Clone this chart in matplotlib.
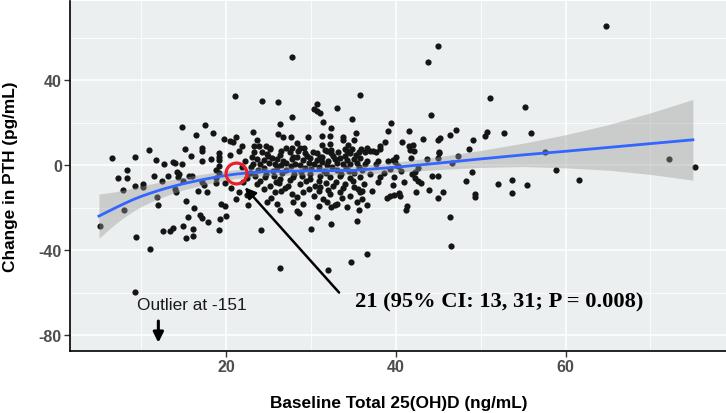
import numpy as np
import matplotlib
matplotlib.use('Agg')
import matplotlib.pyplot as plt
from matplotlib.ticker import MultipleLocator

plt.rcParams['axes.unicode_minus'] = False

# scatter points (baseline 25(OH)D, change in PTH)
pts_x = [5.1, 6.5, 7.2, 7.8, 8.0, 8.3, 8.3, 9.2, 9.2, 9.4, 9.3, 10.2, 10.2, 10.9, 11.0, 11.5, 11.7, 11.8, 11.9, 12.4,
         12.6, 12.7, 13.1, 13.4, 13.7, 13.7, 14.0, 14.0, 14.1, 14.2, 14.4, 14.3, 14.8, 14.8, 14.9, 14.9, 15.1, 15.3, 15.3, 15.5,
         15.6, 15.8, 16.0, 16.1, 16.1, 16.2, 16.4, 16.7, 16.9, 17.1, 17.1, 17.1, 17.2, 17.2, 17.4, 17.5, 17.7, 17.8, 18.2, 18.4,
         18.8, 18.8, 18.8, 19.2, 19.2, 19.2, 19.2, 19.2, 19.3, 19.4, 19.7, 19.8, 19.9, 20.0, 20.4, 20.8, 20.4, 21.0, 21.1, 20.6,
         21.2, 21.8, 19.2,
         23.2, 24.2, 26.1, 27.8, 27.7, 26.3, 26.1, 26.7, 23.6, 23.3, 23.9, 24.7, 25.2, 25.2, 27.6, 28.3, 29.6, 30.3, 30.7, 30.7,
         31.1, 31.4, 33.1, 35.8, 32.4, 31.3, 32.2, 33.8, 33.8, 34.8, 35.3, 35.1, 31.3, 32.2, 34.3, 27.1, 27.8, 28.7, 29.2, 31.6,
         32.4, 34.0, 34.8, 35.9, 36.6,
         37.3, 38.1, 38.1, 38.7, 39.1, 39.4, 40.7, 41.5, 41.5, 41.7, 42.0, 42.1, 43.2, 43.8, 44.1, 44.9, 44.9, 45.2, 45.1, 46.4,
         47.1, 47.3, 48.6, 49.1, 50.5, 50.7, 51.1, 52.7, 55.2, 55.9, 57.6, 58.9, 61.6, 64.7, 72.2, 75.2, 45.1, 45.0, 43.7, 41.8,
         40.0, 39.7, 39.9, 39.1, 37.9, 37.7, 46.6, 40.6, 42.2, 41.9, 39.3, 42.2, 42.6, 42.9, 44.3, 45.0, 39.8, 39.6, 40.9, 38.1,
         37.9, 37.2, 42.4, 43.9, 45.5, 39.3, 39.0, 39.8, 40.4, 40.5, 44.9, 41.3, 49.3, 49.3, 48.2, 49.0, 52.0, 53.7, 55.4, 53.7,
         36.0, 41.2, 46.4, 46.5, 36.6, 34.7, 37.0, 37.7,
         24.1, 26.3, 26.3, 28.3, 28.6, 30.7, 30.0, 32.4, 32.4, 32.0, 35.4, 35.7, 36.6, 32.8,
         23.3, 24.2, 24.8, 26.5, 27.5, 28.5, 29.3, 30.2, 30.7, 31.9, 32.4, 33.2, 34.2, 34.6, 35.6, 36.4,
         23.6, 24.4, 25.4, 26.0, 26.7, 27.7, 28.3, 29.1, 29.9, 30.7, 31.3, 32.0, 32.8, 33.4, 34.2, 35.0, 35.8, 36.6,
         23.2, 24.0, 25.0, 25.8, 26.5, 27.1, 28.1, 28.7, 29.7, 30.3, 31.3, 31.9, 33.0, 33.8, 34.6, 35.4, 36.4,
         23.8, 25.5, 27.0, 28.8, 30.0, 31.5, 33.0, 34.5, 36.0,
         23.4, 24.6, 25.6, 26.3, 27.9, 28.9, 29.9, 31.1, 32.2, 33.4, 34.6, 35.8,
         23.6, 25.2, 26.2, 27.3, 28.7, 30.5, 31.1, 31.7, 32.6, 34.0, 35.0, 36.2,
         25.8, 26.5, 27.7, 29.1, 30.3, 30.9, 32.2, 33.4, 34.6, 35.8,
         24.8, 26.0, 27.9, 29.1, 30.9, 31.9, 33.0, 34.2, 35.4,
         23.0, 24.9, 26.3, 27.9, 29.5, 31.0, 32.6, 34.0, 35.3,
         22.9, 24.5, 26.0, 27.6, 29.3, 30.9, 32.5, 34.1, 35.7,
         24.0, 25.9, 27.5, 29.4, 30.9, 32.9, 34.9,
         24.4, 26.9, 29.7, 32.0, 33.8, 35.5,
         25.3, 28.3, 31.4, 33.6, 36.0,
         21.5, 22.2, 21.8, 22.5, 22.0, 21.5, 22.5, 22.6,
         22.8, 24.7, 26.6, 28.0, 29.9, 31.7, 33.5, 35.1, 36.9, 38.6, 40.2, 42.6]
pts_y = [-28.7, 3.3, -6.1, -11.9, -21.2, -2.2, -6.1, 3.6, -9.7, -33.8, -59.6, -8.9, -10.5, 6.9, -39.7, -5.0, 2.4, -15.2, -18.8, -7.4,
         -31.2, 0.3, -5.2, -31.2, -29.8, 1.4, 1.0, -11.3, -12.9, -3.3, -4.2, -5.8, 18.0, 0.5, -7.4, -28.6, 7.7, -34.5, -16.8, -24.6,
         -5.2, 4.4, -5.2, -33.6, -30.0, -20.0, 14.0, -12.0, -23.6, -24.8, 2.0, -7.8, 8.0, 6.7, -9.5, 19.0, -12.9, -27.0, 2.8, 14.9,
         -2.2, -6.1, -8.5, 5.8, 3.9, 2.4, -0.3, -30.6, -25.3, -18.4, 12.5, -19.1, -8.5, -23.8, 11.4, 11.0, 4.6, 32.4, -16.0, -11.0,
         13.0, 8.9, -3.8,
         15.8, 30.3, 29.6, 51.1, 22.8, 19.2, 14.6, 13.0, 11.8, 8.8, 9.1, 9.1, 8.2, 7.5, 13.3, 10.5, 13.0, 26.5, 28.9, 25.6,
         24.6, 20.3, 27.1, 32.8, 17.3, 13.8, 13.8, 13.3, 11.8, 21.8, 15.2, 11.8, 9.3, 9.8, 9.4, 7.9, 7.9, 7.9, 7.9, 7.0,
         7.2, 7.4, 7.5, 7.5, 8.0,
         6.7, 9.1, 7.8, 11.1, 16.1, 19.7, 11.0, 16.1, 8.9, 7.0, 9.5, 6.8, 12.5, 48.6, 23.5, 55.9, 11.9, 12.8, 6.0, 14.3,
         16.6, 4.4, 7.5, 11.6, 13.8, 15.8, 31.7, 15.0, 27.3, 15.0, 6.0, -2.2, -6.9, 65.7, 3.0, -0.8, 5.6, 3.4, 3.0, 3.3,
         3.6, 2.5, 1.6, 1.7, 1.9, 0.5, 1.1, -2.8, -3.4, -4.4, -1.8, -6.1, -7.4, -8.2, -5.3, -5.3, -5.8, -9.3, -8.1, -5.5,
         -7.8, -12.1, -12.9, -11.9, -12.9, -14.4, -15.7, -14.0, -13.3, -14.4, -15.4, -19.2, -13.6, -15.2, -7.4, -3.4, -8.8, -7.0, -9.5, -13.3,
         -12.0, -21.2, -24.3, -38.1, -41.7, -45.5, 6.7, 6.3,
         -30.6, -21.2, -48.3, -21.8, -22.6, -24.3, -30.3, -27.6, -19.7, -49.6, -26.5, -21.0, -19.0, -18.8,
         6.0, 6.3, 5.2, 6.7, 6.0, 6.7, 5.6, 6.2, 5.6, 6.7, 5.6, 6.0, 6.7, 5.6, 6.2, 6.0,
         2.8, 2.5, 3.3, 2.8, 2.0, 2.8, 3.6, 2.4, 3.1, 2.5, 3.6, 2.0, 2.8, 3.1, 2.4, 2.8, 3.1, 2.0,
         0.5, 0.5, 1.0, 0.5, 0.2, 1.0, 0.5, 0.2, 1.0, 0.5, 1.3, 0.2, 1.0, 0.5, 0.5, 1.0, 0.5,
         -2.2, -3.0, -2.4, -3.2, -2.0, -2.8, -2.2, -3.0, -2.5,
         -5.0, -5.8, -5.0, -6.6, -5.8, -5.0, -6.6, -5.3, -5.8, -5.0, -6.3, -5.8,
         -9.0, -9.8, -8.2, -9.8, -9.0, -9.8, -10.5, -8.2, -9.8, -9.0, -10.5, -9.0,
         -12.9, -12.1, -13.7, -12.9, -14.4, -12.1, -13.7, -12.9, -14.4, -12.9,
         -17.6, -18.4, -17.6, -18.4, -19.2, -17.6, -18.4, -19.9, -17.6,
         4.0, 4.4, 4.6, 4.0, 4.4, 4.0, 4.5, 4.2, 4.6,
         -0.8, -1.2, -1.0, -0.6, -1.3, -0.9, -0.7, -1.2, -0.8,
         -7.4, -7.8, -7.2, -7.6, -7.4, -7.8, -7.6,
         -11.2, -10.8, -11.3, -11.6, -10.9, -11.1,
         -15.6, -15.2, -15.8, -15.4, -16.0,
         6.5, 2.0, -1.0, -6.0, -8.0, -12.5, -14.0, -19.0,
         -3.9, -4.1, -3.7, -4.0, -4.2, -3.8, -4.1, -3.9, -4.4, -3.6, -0.4, -1.6]

# smoother (loess)
fit_x = [5, 6, 7, 8, 9, 10, 11, 12, 13, 15, 17, 19, 21, 23, 25, 30, 35, 40, 45, 50, 55, 60, 65, 70, 75]
fit_y = [-24.0, -22.0, -20.0, -18.1, -16.3, -14.7, -13.3, -12.0, -10.8, -8.7, -7.0, -5.5, -4.3, -3.5, -3.0, -2.7, -2.5,
         -1.0, 0.9, 2.9, 4.8, 6.5, 8.3, 10.1, 11.9]
fit_se = [10.4, 8.9, 7.5, 6.4, 5.5, 4.8, 4.3, 3.9, 3.5, 2.9, 2.6, 2.3, 2.1, 2.0, 1.9, 1.9, 2.0, 2.4, 3.0, 4.0, 5.5,
          7.8, 10.7, 14.5, 19.0]

optimum = (21.2, -3.8)
note = '21 (95% CI: 13, 31; P = 0.008)'

fig = plt.figure(figsize=(7.26, 4.14), dpi=100)
ax = fig.add_axes([0.0968, 0.1498, 0.9032, 0.8452])
ax.set_facecolor('#ECEFEF')

fx = np.array(fit_x)
fy = np.array(fit_y)
fs = np.array(fit_se)

ax.scatter(pts_x, pts_y, s=20, color='#151515', linewidths=0, zorder=3)
ax.fill_between(fx, fy - fs, fy + fs, color='#999999', alpha=0.4, linewidth=0, zorder=4)
ax.plot(fx, fy, color='#3366FF', lw=2.0, zorder=5)

ax.plot([optimum[0]], [optimum[1]], marker='o', ms=15, mfc='none', mec='#E8202A', mew=2.3, zorder=6)

ax.annotate('', xy=(22.2, -10.5), xytext=(33.3, -60),
            arrowprops=dict(arrowstyle='-|>', color='black', lw=1.8, mutation_scale=16,
                            shrinkA=0, shrinkB=0), zorder=7)
ax.text(35.2, -66.4, note, family='Liberation Serif', fontweight='bold', fontsize=16.2,
        va='baseline', ha='left', zorder=7)

ax.text(15.9, -65.4, 'Outlier at -151', family='Liberation Sans', fontsize=12.4,
        ha='center', va='center', color='#1a1a1a')
ax.annotate('', xy=(12.0, -83.6), xytext=(12.0, -73.4),
            arrowprops=dict(arrowstyle='-|>', color='black', lw=2.2, mutation_scale=15,
                            shrinkA=0, shrinkB=0))

ax.set_xlim(1.62, 78.9)
ax.set_ylim(-87.5, 77.2)
ax.xaxis.set_major_locator(MultipleLocator(20))
ax.xaxis.set_minor_locator(MultipleLocator(10))
ax.yaxis.set_major_locator(MultipleLocator(40))
ax.yaxis.set_minor_locator(MultipleLocator(20))
ax.grid(which='major', color='white', lw=1.1, zorder=0)
ax.grid(which='minor', color='white', lw=0.55, zorder=0)
ax.set_axisbelow(True)

for s in ['top', 'right']:
    ax.spines[s].set_visible(False)
for s in ['left', 'bottom']:
    ax.spines[s].set_color('black')
    ax.spines[s].set_linewidth(1.2)

ax.tick_params(which='major', length=4, width=1, color='#333333', labelcolor='#4D4D4D', labelsize=11.5, pad=2)
ax.tick_params(which='minor', length=0)
for lab in ax.get_xticklabels() + ax.get_yticklabels():
    lab.set_fontweight('bold')
    lab.set_family('Liberation Sans')

ax.set_xlabel('Baseline Total 25(OH)D (ng/mL)', family='Liberation Sans', fontweight='bold', fontsize=12.4)
ax.set_ylabel('Change in PTH (pg/mL)', family='Liberation Sans', fontweight='bold', fontsize=12.4)
ax.xaxis.set_label_coords(0.501, -0.126)
ax.yaxis.set_label_coords(-0.08, 0.5)
ax.xaxis.label.set_va('top')

fig.savefig('out.png', dpi=100)
